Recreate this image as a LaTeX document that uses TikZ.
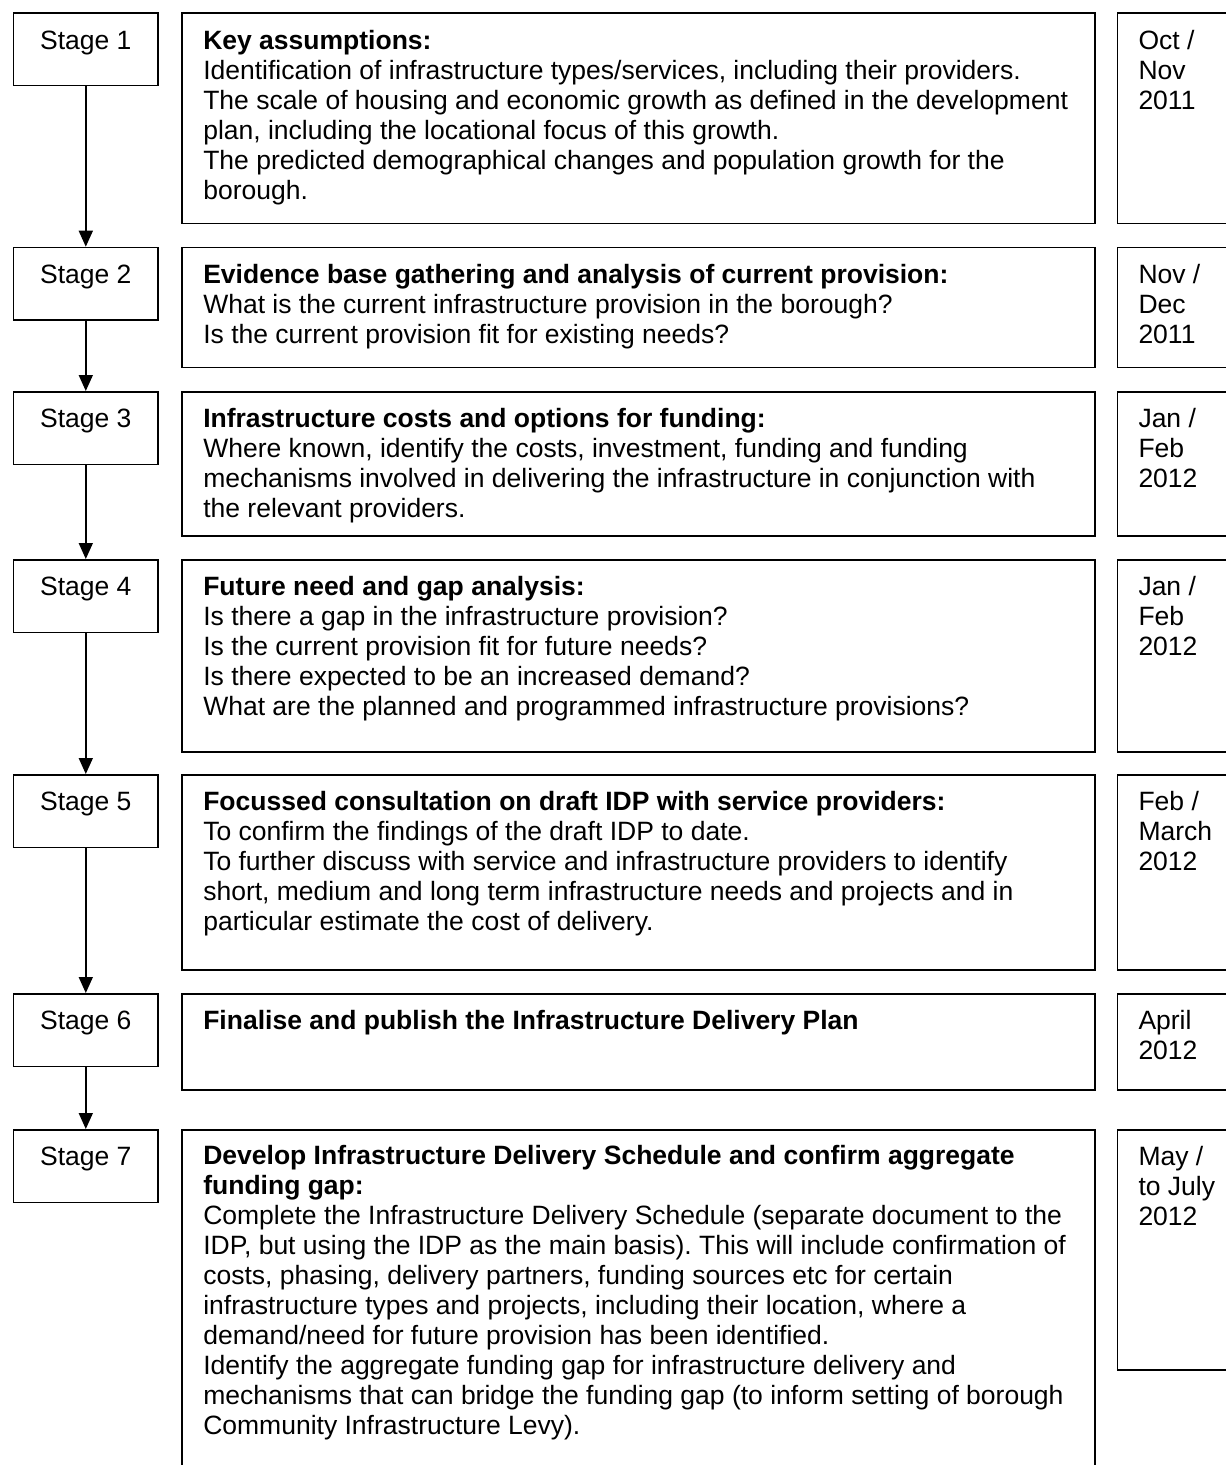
\documentclass[tikz,border=0pt]{standalone}
\usepackage{fontspec}
\setmainfont{Liberation Sans}
\usetikzlibrary{arrows.meta}
\frenchspacing
\tikzset{%
  stagebox/.style = {shape=rectangle, draw, anchor=north west, inner sep=0pt,%
                     minimum width=144.6pt, minimum height=72.5pt,%
                     text height=36pt, text depth=36.5pt},%
  infobox/.style  = {shape=rectangle, draw, anchor=north west, inner sep=0pt,%
                     minimum width=913pt},%
  datebox/.style  = {infobox, minimum width=135pt},%
  boxtext/.style  = {anchor=north west, inner sep=0pt, align=left},%
  flow/.style     = {-{Triangle[width=14pt,length=16pt]}}%
}

\begin{document}
\begin{tikzpicture}[x=1pt,y=-1pt,line width=1.6pt,
  every node/.style = {font=\fontsize{26.5}{30}\selectfont}]%
	\useasboundingbox (0,0) rectangle (1226,1465);
	% stage column
	\node[stagebox] (s1) at (12.7,12.3) {Stage 1};
	\node[stagebox] (s2) at (12.7,246.7) {Stage 2};
	\node[stagebox] (s3) at (12.7,391) {Stage 3};
	\node[stagebox] (s4) at (12.7,559) {Stage 4};
	\node[stagebox] (s5) at (12.7,774) {Stage 5};
	\node[stagebox] (s6) at (12.7,993) {Stage 6};
	\node[stagebox] (s7) at (12.7,1129) {Stage 7};
	% description column
	\node[infobox, minimum height=210.4pt] (c1) at (181,12.3) {};
	\node[infobox, minimum height=120pt] (c2) at (181,246.7) {};
	\node[infobox, minimum height=144pt] (c3) at (181,391) {};
	\node[infobox, minimum height=192pt] (c4) at (181,559) {};
	\node[infobox, minimum height=195pt] (c5) at (181,774) {};
	\node[infobox, minimum height=96pt] (c6) at (181,993) {};
	\node[infobox, minimum height=380pt] (c7) at (181,1129) {};
	% date column
	\node[datebox, minimum height=210.4pt] (d1) at (1116.7,12.3) {};
	\node[datebox, minimum height=120pt] (d2) at (1116.7,246.7) {};
	\node[datebox, minimum height=144pt] (d3) at (1116.7,391) {};
	\node[datebox, minimum height=192pt] (d4) at (1116.7,559) {};
	\node[datebox, minimum height=195pt] (d5) at (1116.7,774) {};
	\node[datebox, minimum height=96pt] (d6) at (1116.7,993) {};
	\node[datebox, minimum height=240pt] (d7) at (1116.7,1129) {};
	% texts
	\node[boxtext] (c1t) at ([xshift=21.5pt,yshift=-15pt]c1.north west)
		{\strut\textbf{Key assumptions:}\\
		Identification of infrastructure types/services, including their providers.\\
		The scale of housing and economic growth as defined in the development\\
		plan, including the locational focus of this growth.\\
		The predicted demographical changes and population growth for the\\
		borough.};
	\node[boxtext] (c2t) at ([xshift=21.5pt,yshift=-15pt]c2.north west)
		{\strut\textbf{Evidence base gathering and analysis of current provision:}\\
		What is the current infrastructure provision in the borough?\\
		Is the current provision fit for existing needs?};
	\node[boxtext] (c3t) at ([xshift=21.5pt,yshift=-15pt]c3.north west)
		{\strut\textbf{Infrastructure costs and options for funding:}\\
		Where known, identify the costs, investment, funding and funding\\
		mechanisms involved in delivering the infrastructure in conjunction with\\
		the relevant providers.};
	\node[boxtext] (c4t) at ([xshift=21.5pt,yshift=-15pt]c4.north west)
		{\strut\textbf{Future need and gap analysis:}\\
		Is there a gap in the infrastructure provision?\\
		Is the current provision fit for future needs?\\
		Is there expected to be an increased demand?\\
		What are the planned and programmed infrastructure provisions?};
	\node[boxtext] (c5t) at ([xshift=21.5pt,yshift=-15pt]c5.north west)
		{\strut\textbf{Focussed consultation on draft IDP with service providers:}\\
		To confirm the findings of the draft IDP to date.\\
		To further discuss with service and infrastructure providers to identify\\
		short, medium and long term infrastructure needs and projects and in\\
		particular estimate the cost of delivery.};
	\node[boxtext] (c6t) at ([xshift=21.5pt,yshift=-15pt]c6.north west)
		{\strut\textbf{Finalise and publish the Infrastructure Delivery Plan}};
	\node[boxtext] (c7t) at ([xshift=21.5pt,yshift=-14pt]c7.north west)
		{\strut\textbf{Develop Infrastructure Delivery Schedule and confirm aggregate}\\
		\textbf{funding gap:}\\
		Complete the Infrastructure Delivery Schedule (separate document to the\\
		IDP, but using the IDP as the main basis). This will include confirmation of\\
		costs, phasing, delivery partners, funding sources etc for certain\\
		infrastructure types and projects, including their location, where a\\
		demand/need for future provision has been identified.\\
		Identify the aggregate funding gap for infrastructure delivery and\\
		mechanisms that can bridge the funding gap (to inform setting of borough\\
		Community Infrastructure Levy).};
	\node[boxtext] (d1t) at ([xshift=21pt,yshift=-15pt]d1.north west) {\strut Oct /\\Nov\\2011};
	\node[boxtext] (d2t) at ([xshift=21pt,yshift=-15pt]d2.north west) {\strut Nov /\\Dec\\2011};
	\node[boxtext] (d3t) at ([xshift=21pt,yshift=-15pt]d3.north west) {\strut Jan /\\Feb\\2012};
	\node[boxtext] (d4t) at ([xshift=21pt,yshift=-15pt]d4.north west) {\strut Jan /\\Feb\\2012};
	\node[boxtext] (d5t) at ([xshift=21pt,yshift=-15pt]d5.north west) {\strut Feb /\\March\\2012};
	\node[boxtext] (d6t) at ([xshift=21pt,yshift=-15pt]d6.north west) {\strut April\\2012};
	\node[boxtext] (d7t) at ([xshift=21pt,yshift=-15pt]d7.north west) {\strut May /\\to July\\2012};
	% arrows between stages
	\draw[flow] (s1.south) -- (s2.north);
	\draw[flow] (s2.south) -- (s3.north);
	\draw[flow] (s3.south) -- (s4.north);
	\draw[flow] (s4.south) -- (s5.north);
	\draw[flow] (s5.south) -- (s6.north);
	\draw[flow] (s6.south) -- (s7.north);
\end{tikzpicture}
\end{document}
